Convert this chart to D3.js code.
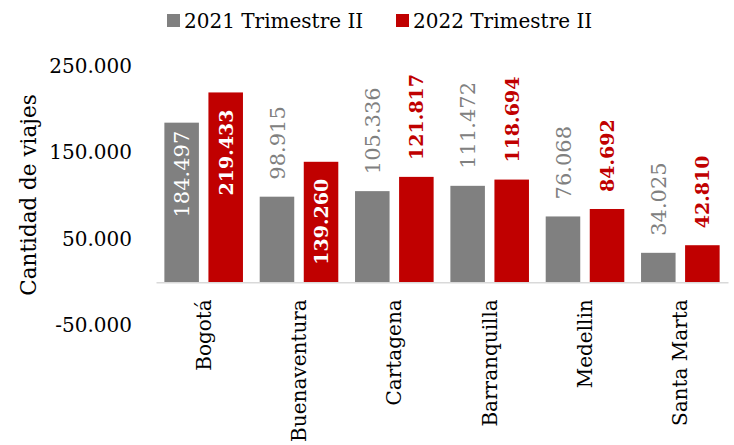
<!DOCTYPE html>
<html>
<head>
<meta charset="utf-8">
<script src="https://cdn.jsdelivr.net/npm/d3@7"></script>
<style>
  body { margin: 0; background: #fff; }
  svg { font-family: "DejaVu Serif", serif; }
</style>
</head>
<body>
<svg id="chart" width="734" height="445"></svg>
<script>
var categorias = ["Bogotá", "Buenaventura", "Cartagena", "Barranquilla", "Medellin", "Santa Marta"];
var series = ["2021 Trimestre II", "2022 Trimestre II"];
var valores2021 = [184497, 98915, 105336, 111472, 76068, 34025];
var valores2022 = [219433, 139260, 121817, 118694, 84692, 42810];
// etiqueta dentro de la barra (true) o encima (false)
var dentro2021 = [true, false, false, false, false, false];
var dentro2022 = [true, true, false, false, false, false];
var ticksY = [-50000, 50000, 150000, 250000];

var colores = ["#808080", "#c00000"];

var locale = d3.formatLocale({decimal: ",", thousands: ".", grouping: [3], currency: ["$", ""], minus: "-"});
var fmt = locale.format(",.0f");

var svg = d3.select("#chart");

var x = d3.scaleBand()
    .domain(categorias)
    .range([156, 728]);

var xs = d3.scaleBand()
    .domain(series)
    .range([0, x.bandwidth()])
    .paddingInner(0.216)
    .paddingOuter(0.19);

var y = d3.scaleLinear()
    .domain([-50000, 250000])
    .range([325.5, 66]);

// eje y (solo etiquetas)
var ejeY = svg.append("g")
    .attr("transform", "translate(156,0)")
    .call(d3.axisLeft(y).tickValues(ticksY).tickSize(0).tickPadding(24).tickFormat(fmt));
ejeY.select(".domain").remove();
ejeY.selectAll("text")
    .attr("font-family", "DejaVu Serif")
    .attr("font-size", 20)
    .attr("fill", "#000");

svg.append("text")
    .attr("transform", "translate(36,195) rotate(-90)")
    .attr("text-anchor", "middle")
    .attr("font-size", 21.5)
    .attr("fill", "#000")
    .text("Cantidad de viajes");

var datos = [];
categorias.forEach(function(c, i){
  datos.push({cat: c, serie: series[0], valor: valores2021[i], dentro: dentro2021[i], s: 0});
  datos.push({cat: c, serie: series[1], valor: valores2022[i], dentro: dentro2022[i], s: 1});
});

svg.append("g").selectAll("rect")
    .data(datos)
    .enter()
    .append("rect")
    .attr("x", function(d){ return x(d.cat) + xs(d.serie); })
    .attr("y", function(d){ return y(d.valor); })
    .attr("width", xs.bandwidth())
    .attr("height", function(d){ return y(0) - y(d.valor); })
    .attr("fill", function(d){ return colores[d.s]; });

// eje x
var ejeX = svg.append("g")
    .attr("transform", "translate(0," + y(0) + ")")
    .call(d3.axisBottom(x).tickSize(0).tickSizeOuter(0));
ejeX.select(".domain")
    .attr("stroke", "#d9d9d9")
    .attr("stroke-width", 1.5);
ejeX.selectAll("text")
    .attr("font-family", "DejaVu Serif")
    .attr("font-size", 20)
    .attr("fill", "#000")
    .attr("text-anchor", "end")
    .attr("transform", "rotate(-90)")
    .attr("x", -17)
    .attr("y", 0)
    .attr("dy", "0.35em");

// etiquetas de datos
svg.append("g").selectAll("text")
    .data(datos)
    .enter()
    .append("text")
    .attr("transform", function(d){
      var cx = x(d.cat) + xs(d.serie) + xs.bandwidth() / 2;
      var cy;
      if(d.dentro)
        cy = y(d.valor) + (d.s == 0 ? 8 : 17);
      else
        cy = y(d.valor) - 17;
      return "translate(" + cx + "," + cy + ") rotate(-90)";
    })
    .attr("text-anchor", function(d){ return d.dentro ? "end" : "start"; })
    .attr("dy", "0.36em")
    .attr("font-size", function(d){ return d.s == 0 ? 21 : 19; })
    .attr("font-weight", function(d){ return d.s == 0 ? "normal" : "bold"; })
    .attr("fill", function(d){
      if(d.dentro)
        return "#fff";
      return colores[d.s];
    })
    .text(function(d){ return fmt(d.valor); });

// leyenda
var leyX = [167, 396];
var leyenda = svg.append("g").selectAll("g")
    .data(series)
    .enter()
    .append("g")
    .attr("transform", function(d, i){ return "translate(" + leyX[i] + ",0)"; });

leyenda.append("rect")
    .attr("x", 0)
    .attr("y", 14)
    .attr("width", 13)
    .attr("height", 13)
    .attr("fill", function(d, i){ return colores[i]; });

leyenda.append("text")
    .attr("x", 17)
    .attr("y", 28)
    .attr("font-size", 20)
    .attr("fill", "#000")
    .text(function(d){ return d; });
</script>
</body>
</html>
